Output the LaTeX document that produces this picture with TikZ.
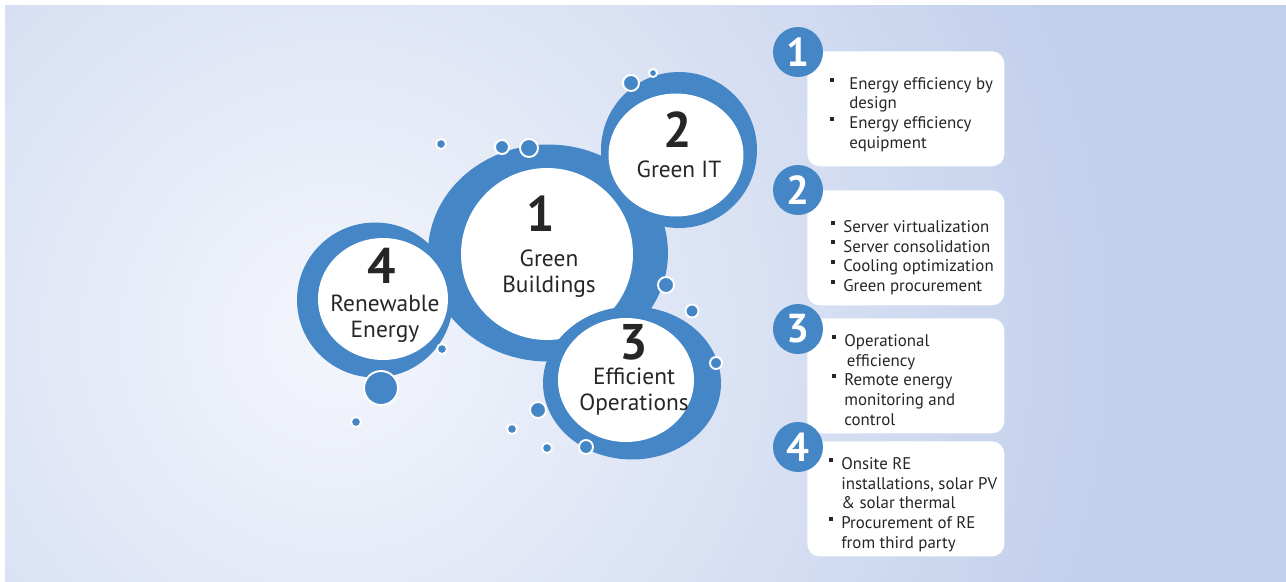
\documentclass[tikz,border=0pt]{standalone}
\usepackage{fontspec}
\setmainfont{PT Sans}
\usetikzlibrary{shapes.geometric}
\definecolor{ringblue}{RGB}{68,134,198}
\definecolor{bgblue}{RGB}{195,208,236}
\definecolor{bgwhite}{RGB}{244,246,252}
\definecolor{txtgray}{RGB}{38,38,38}
\newcommand\itm[1][5pt]{\llap{\raisebox{4.3pt}{\rule{2.3pt}{2.3pt}}\hspace{#1}}}
\tikzset{
  ring/.style={ellipse, fill=ringblue, inner sep=0pt},
  face/.style={ellipse, fill=white, inner sep=0pt},
  bubble/.style={circle, fill=ringblue, draw=white, line width=1.1pt, inner sep=0pt},
  numtxt/.style={font=\fontsize{28.5}{28.5}\selectfont\bfseries, text=txtgray, inner sep=0pt},
  lbltxt/.style={font=\fontsize{13.3}{14.8}\selectfont, text=txtgray, align=center, inner sep=0pt},
  panel/.style={rectangle, fill=white, rounded corners=7pt, inner sep=0pt, minimum width=3.94cm, minimum height=2.3cm, anchor=north west},
  badge/.style={circle, fill=ringblue, minimum size=1cm, inner sep=0pt, text=white, font=\fontsize{23}{23}\selectfont\bfseries},
  listtxt/.style={font=\fontsize{9.6}{11.2}\selectfont, text=txtgray, align=left, inner sep=0pt, anchor=north west}
}
\begin{document}
\begin{tikzpicture}[x=0.02cm, y=-0.02cm]
\useasboundingbox (0,0) rectangle (1286,582);
\begin{scope}
  \clip (5,5) rectangle (1286,582);
  \fill[bgblue] (5,5) rectangle (1286,582);
  \shade[inner color=bgwhite, outer color=bgblue] (335,335) circle [radius=15.6cm];
\end{scope}

% rings and faces
\node[ring, minimum width=4.8cm, minimum height=4.34cm] (ring1) at (548,253) {};
\node[face, minimum width=3.44cm, minimum height=3.44cm] (face1) at (547,254) {};
\node[ring, minimum width=3.56cm, minimum height=3.06cm] (ring3) at (632,383) {};
\node[face, minimum width=2.72cm, minimum height=2.48cm] (face3) at (626,380) {};
\node[ring, minimum width=3.12cm, minimum height=3.12cm] (ring2) at (679,150) {};
\node[face, minimum width=2.7cm, minimum height=2.46cm] (face2) at (676,155) {};
\node[ring, minimum width=3.12cm, minimum height=3.1cm] (ring4) at (375,300) {};
\node[face, minimum width=2.6cm, minimum height=2.44cm] (face4) at (383,299) {};

\node[numtxt] (num1) at (541,214) {1};
\node[lbltxt] (lbl1) at (549,274) {Green\\Buildings};
\node[numtxt] (num2) at (678,130) {2};
\node[lbltxt] (lbl2) at (679,169) {Green IT};
\node[numtxt] (num3) at (634,342) {3};
\node[lbltxt] (lbl3) at (634,392) {Efficient\\Operations};
\node[numtxt] (num4) at (382,266) {4};
\node[lbltxt] (lbl4) at (385,319) {Renewable\\Energy};

% bubbles
\foreach \x/\y/\r [count=\i] in {441/144/6, 502/147/8, 529/148/10, 631/83/9, 653/73/5,
    666/285/9, 692/311/7.5, 716/363/7, 538/410/9, 512/429/6, 547/448/6, 586/447/8,
    442/349/6, 381/388/18, 356/422/6}
  \node[bubble, minimum size={(2*\r-2)*0.02cm}] (bub\i) at (\x,\y) {};

% panels
\node[panel] (pan1) at (807,51) {};
\node[panel] (pan2) at (807,190) {};
\node[panel] (pan3) at (807,318) {};
\node[panel] (pan4) at (807,441) {};
\node[badge] (bdg1) at (798,52) {1};
\node[badge] (bdg2) at (798,190) {2};
\node[badge] (bdg3) at (798,329) {3};
\node[badge] (bdg4) at (798,447) {4};

\node[listtxt] (lst1) at (849,77) {\itm[9pt]Energy efficiency by\\design\\\itm[9pt]Energy efficiency\\equipment};
\node[listtxt] (lst2) at (843,220) {\itm Server virtualization\\\itm Server consolidation\\\itm Cooling optimization\\\itm Green procurement};
\node[listtxt] (lst3) at (844,334) {\itm Operational\\\hspace{1.5pt}efficiency\\\itm Remote energy\\monitoring and\\control};
\node[listtxt] (lst4) at (841,457) {\itm Onsite RE\\installations, solar PV\\\& solar thermal\\\itm Procurement of RE\\from third party};
\end{tikzpicture}
\end{document}
